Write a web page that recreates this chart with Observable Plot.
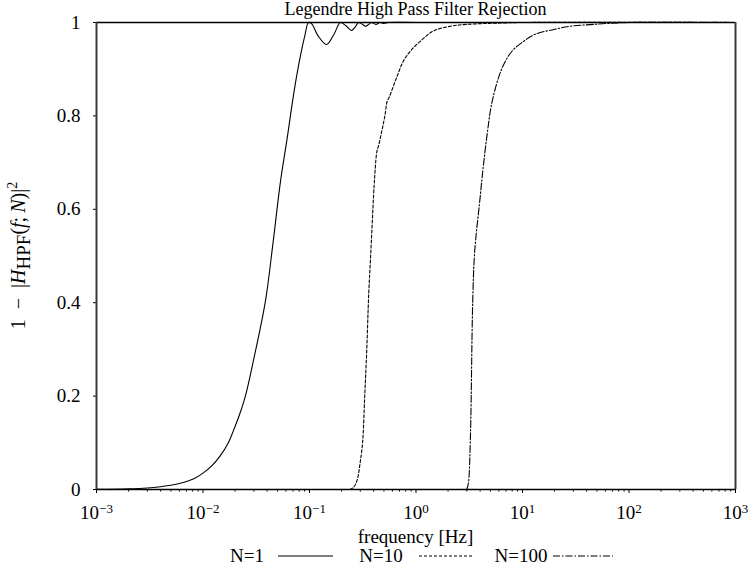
<!DOCTYPE html>
<html><head><meta charset="utf-8">
<script src="https://cdn.jsdelivr.net/npm/d3@7"></script>
<script src="https://cdn.jsdelivr.net/npm/@observablehq/plot@0.6"></script>
<style>html,body{margin:0;padding:0;background:#fff} svg{display:block}</style>
</head><body><div id="chart"></div>
<script>
// ---- data ----
const freqN1 = [0.001,0.002,0.003,0.004,0.005,0.0065,0.0082,0.01,0.012,0.0145,0.0173,0.0193,0.022,0.025,0.03,0.0386,0.045,0.0535,0.062,0.0708,0.08,0.09,0.098,0.105,0.12,0.1445,0.17,0.195,0.22,0.247,0.268,0.288,0.31,0.336,0.36,0.38,0.42,0.46,0.5,0.55,1,10,1000];
const valN1  = [0.0004,0.0015,0.0033,0.006,0.009,0.015,0.023,0.035,0.05,0.072,0.1,0.126,0.16,0.2,0.28,0.404,0.52,0.661,0.755,0.845,0.915,0.97,1.0,0.997,0.972,0.953,0.975,1.0,0.993,0.983,0.99,1.0,0.997,0.992,0.996,1.0,0.996,1.0,0.998,1.0,1,1,1];

const freqN10 = [0.24,0.26,0.28,0.30,0.315,0.33,0.345,0.36,0.375,0.39,0.407,0.43,0.445,0.48,0.51,0.537,0.56,0.665,0.764,0.887,1.1,1.46,2.11,3,6.6,10,1000];
const valN10  = [0,0.005,0.02,0.06,0.1,0.2,0.3,0.42,0.5,0.58,0.661,0.725,0.736,0.77,0.8,0.832,0.84,0.885,0.918,0.939,0.96,0.982,0.992,0.996,0.999,1,1];

const freqN100 = [3.0,3.08,3.13,3.25,3.41,3.56,3.97,4.27,4.66,5.2,6.45,8.0,10.3,13.2,19.7,28.2,46.4,100,1000];
const valN100  = [0,0.01,0.02,0.12,0.404,0.511,0.618,0.689,0.761,0.832,0.903,0.939,0.96,0.975,0.985,0.992,0.996,1,1];

const seriesNames = ["N=1", "N=10", "N=100"];
const xTicks = [1e-3, 1e-2, 1e-1, 1, 10, 100, 1000];
const xTickExponents = ["\u22123", "\u22122", "\u22121", "0", "1", "2", "3"];
const yTicks = [0, 0.2, 0.4, 0.6, 0.8, 1];
const yTickLabels = ["0", "0.2", "0.4", "0.6", "0.8", "1"];
const titleText = "Legendre High Pass Filter Rejection";
const xLabelText = "frequency [Hz]";

// ---- build table ----
const rows = [];
[[freqN1, valN1], [freqN10, valN10], [freqN100, valN100]].forEach(([fs, vs], k) => {
  fs.forEach((f, i) => rows.push({series: seriesNames[k], f, v: vs[i]}));
});
const minorTicks = [];
for (let e = -3; e < 3; e++) for (let m = 2; m <= 9; m++) minorTicks.push(m * Math.pow(10, e));

const dashes = {"N=1": null, "N=10": "3,2", "N=100": "7,2,1.5,2"};
const W = 749, H = 569, mL = 96, mR = 14, mT = 22, mB = 80;
const FONT = "Liberation Serif";

const lineMarks = seriesNames.map(s => Plot.line(rows.filter(r => r.series === s), {
  x: "f", y: "v", stroke: "black", strokeWidth: 1.1, curve: "catmull-rom",
  strokeDasharray: dashes[s]
}));

const svg = Plot.plot({
  width: W, height: H,
  marginLeft: mL, marginRight: mR, marginTop: mT, marginBottom: mB,
  style: {fontFamily: FONT, fontSize: "19px", background: "white", color: "black", overflow: "visible"},
  x: {type: "log", domain: [1e-3, 1e3], label: null},
  y: {domain: [0, 1], label: null},
  marks: [
    Plot.axisY(yTicks, {tickSize: 3, tickPadding: 13, tickFormat: d => yTickLabels[yTicks.indexOf(d)], label: null, fontSize: 19}),
    Plot.axisX(minorTicks, {tickSize: 2.5, tickFormat: () => "", label: null}),
    Plot.axisX(xTicks, {tickSize: 4, tickPadding: 12, tickFormat: () => "10", label: null, fontSize: 19}),
    ...lineMarks,
    Plot.ruleY([0], {stroke: "black", strokeWidth: 1.4}),
    Plot.ruleY([1], {stroke: "black", strokeWidth: 1.4}),
    Plot.ruleX([1e-3, 1e3], {stroke: "#3a3a3a", strokeWidth: 2})
  ]
});

const root = d3.select(svg);
// remove empty labels of the minor-tick axis, add superscript exponents to the major labels
const labelGroups = root.selectAll('g[aria-label="x-axis tick label"]').nodes();
if (labelGroups.length > 1) labelGroups[0].remove();
d3.select(labelGroups[labelGroups.length - 1]).selectAll("text").each(function(d, i) {
  const t = d3.select(this);
  t.text("10");
  t.append("tspan").attr("dy", "-0.5em").attr("font-size", "13px").text(xTickExponents[i]);
});

// title
root.append("text").attr("x", (mL + W - mR) / 2).attr("y", 15)
  .attr("text-anchor", "middle").attr("font-family", FONT).attr("font-size", 18)
  .attr("fill", "black").text(titleText);

// x label
root.append("text").attr("x", (mL + W - mR) / 2).attr("y", 543)
  .attr("text-anchor", "middle").attr("font-family", FONT).attr("font-size", 19)
  .attr("fill", "black").text(xLabelText);

// y label: 1 − |H_HPF(f; N)|²
const yl = root.append("text")
  .attr("transform", `translate(25,${(mT + H - mB) / 2}) rotate(-90)`)
  .attr("text-anchor", "middle").attr("font-family", FONT).attr("font-size", 20).attr("fill", "black");
yl.append("tspan").text("1\u2002\u2212\u2002|");
yl.append("tspan").attr("font-style", "italic").text("H");
yl.append("tspan").attr("dy", 5).attr("font-size", 19).text("HPF");
yl.append("tspan").attr("dy", -5).text("(");
yl.append("tspan").attr("font-style", "italic").text("f");
yl.append("tspan").text(";\u2009");
yl.append("tspan").attr("font-style", "italic").text("N");
yl.append("tspan").text(")|");
yl.append("tspan").attr("dy", -8).attr("font-size", 14).text("2");

// legend
const legendItems = [
  {name: seriesNames[0], tx: 247, x1: 278, x2: 333},
  {name: seriesNames[1], tx: 381, x1: 419, x2: 472},
  {name: seriesNames[2], tx: 521, x1: 553, x2: 613}
];
const lg = root.append("g").attr("aria-label", "legend");
legendItems.forEach(it => {
  lg.append("text").attr("x", it.tx).attr("y", 562).attr("text-anchor", "middle")
    .attr("font-family", FONT).attr("font-size", 19).attr("fill", "black").text(it.name);
  lg.append("line").attr("x1", it.x1).attr("x2", it.x2).attr("y1", 556).attr("y2", 556)
    .attr("stroke", "black").attr("stroke-width", 1.1)
    .attr("stroke-dasharray", dashes[it.name]);
});

document.getElementById("chart").appendChild(svg);
</script>
</body></html>
